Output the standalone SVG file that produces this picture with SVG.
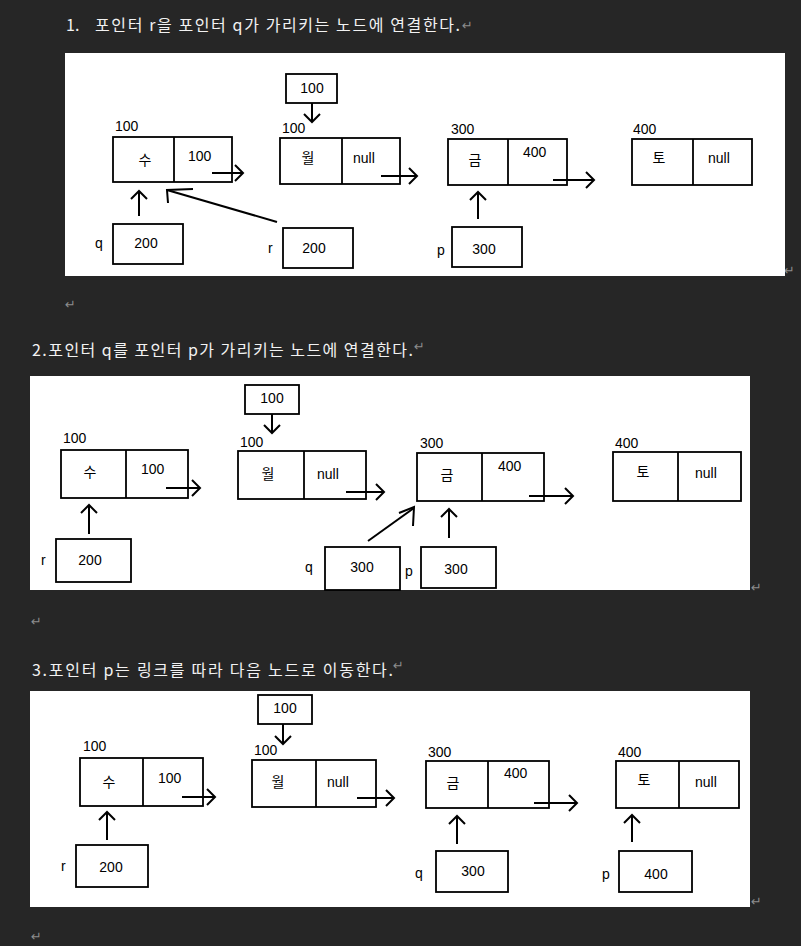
<svg xmlns="http://www.w3.org/2000/svg" width="801" height="946" viewBox="0 0 801 946">
<style>
.bg{fill:#262626}
.panel{fill:#ffffff}
.box{fill:none;stroke:#000;stroke-width:1.8}
.t{font-family:"Liberation Sans","Noto Sans CJK KR",sans-serif;font-size:14px;fill:#000}
.k{font-family:"Noto Sans CJK KR","Liberation Sans",sans-serif;font-size:14px;fill:#000}
.h{font-family:"Noto Sans CJK KR","Liberation Sans",sans-serif;font-size:16px;fill:#f2f2f2}
.pm{font-family:"DejaVu Sans",sans-serif;font-size:13px;fill:#8c8c8c}
.ln{fill:none;stroke:#000;stroke-width:2}
</style>
<defs>
<marker id="arr" markerUnits="userSpaceOnUse" viewBox="-12 -12 24 24" markerWidth="24" markerHeight="24" refX="0" refY="0" orient="auto">
<path d="M-8,-8 L0,0 L-8,8" fill="none" stroke="#000" stroke-width="2"/>
</marker>
</defs>
<rect class="bg" x="0" y="0" width="801" height="946"/>

<g id="headers">
<text class="h" x="66" y="31">1.</text>
<text class="h" x="95" y="31" textLength="365" lengthAdjust="spacing">포인터 r을 포인터 q가 가리키는 노드에 연결한다.</text>
<text class="h" x="32" y="356" textLength="381" lengthAdjust="spacing">2.포인터 q를 포인터 p가 가리키는 노드에 연결한다.</text>
<text class="h" x="32" y="676" textLength="361" lengthAdjust="spacing">3.포인터 p는 링크를 따라 다음 노드로 이동한다.</text>
<text class="pm" x="462" y="30">↵</text>
<text class="pm" x="784" y="275">↵</text>
<text class="pm" x="65" y="309">↵</text>
<text class="pm" x="414" y="351">↵</text>
<text class="pm" x="751" y="592">↵</text>
<text class="pm" x="31" y="626">↵</text>
<text class="pm" x="393" y="670">↵</text>
<text class="pm" x="751" y="906">↵</text>
<text class="pm" x="31" y="941">↵</text>
</g>

<!-- Panel 1 -->
<rect class="panel" x="65" y="53" width="720" height="223"/>
<g id="p1-su"><rect class="box" x="113" y="137" width="119" height="45"/><line class="box" x1="174" y1="137" x2="174" y2="182"/><text class="t" x="115" y="131">100</text><text class="k" x="145" y="165" text-anchor="middle">수</text><text class="t" x="188" y="161">100</text></g>
<g id="p1-wol"><rect class="box" x="280" y="138" width="120" height="46"/><line class="box" x1="342" y1="138" x2="342" y2="184"/><text class="t" x="282" y="133">100</text><text class="k" x="308" y="163" text-anchor="middle">월</text><text class="t" x="353" y="163">null</text></g>
<g id="p1-geum"><rect class="box" x="448" y="139" width="119" height="46"/><line class="box" x1="508" y1="139" x2="508" y2="185"/><text class="t" x="451" y="134">300</text><text class="k" x="475" y="165" text-anchor="middle">금</text><text class="t" x="523" y="157">400</text></g>
<g id="p1-to"><rect class="box" x="632" y="139" width="120" height="46"/><line class="box" x1="693" y1="139" x2="693" y2="185"/><text class="t" x="633" y="134">400</text><text class="k" x="659" y="163" text-anchor="middle">토</text><text class="t" x="708" y="163">null</text></g>
<g id="p1-box100"><rect class="box" x="286" y="74" width="51" height="29"/><text class="t" x="312" y="93" text-anchor="middle">100</text></g>
<g id="p1-q"><rect class="box" x="113" y="224" width="70" height="40"/><text class="t" x="95" y="248">q</text><text class="t" x="146" y="248" text-anchor="middle">200</text></g>
<g id="p1-r"><rect class="box" x="283" y="228" width="70" height="40"/><text class="t" x="268" y="253">r</text><text class="t" x="314" y="253" text-anchor="middle">200</text></g>
<g id="p1-p"><rect class="box" x="452" y="227" width="70" height="40"/><text class="t" x="437" y="255">p</text><text class="t" x="484" y="254" text-anchor="middle">300</text></g>

<!-- Panel 2 -->
<rect class="panel" x="30" y="376" width="720" height="214"/>
<g id="p2-su"><rect class="box" x="61" y="450" width="127" height="48"/><line class="box" x1="126" y1="450" x2="126" y2="498"/><text class="t" x="63" y="443">100</text><text class="k" x="90" y="477" text-anchor="middle">수</text><text class="t" x="141" y="474">100</text></g>
<g id="p2-wol"><rect class="box" x="238" y="451" width="128" height="48"/><line class="box" x1="304" y1="451" x2="304" y2="499"/><text class="t" x="240" y="447">100</text><text class="k" x="268" y="479" text-anchor="middle">월</text><text class="t" x="317" y="479">null</text></g>
<g id="p2-geum"><rect class="box" x="417" y="453" width="127" height="48"/><line class="box" x1="482" y1="453" x2="482" y2="501"/><text class="t" x="420" y="448">300</text><text class="k" x="447" y="480" text-anchor="middle">금</text><text class="t" x="498" y="471">400</text></g>
<g id="p2-to"><rect class="box" x="613" y="452" width="128" height="49"/><line class="box" x1="678" y1="452" x2="678" y2="501"/><text class="t" x="615" y="448">400</text><text class="k" x="643" y="477" text-anchor="middle">토</text><text class="t" x="695" y="478">null</text></g>
<g id="p2-box100"><rect class="box" x="245" y="385" width="54" height="29"/><text class="t" x="272" y="403" text-anchor="middle">100</text></g>
<g id="p2-r"><rect class="box" x="56" y="539" width="75" height="43"/><text class="t" x="41" y="565">r</text><text class="t" x="90" y="565" text-anchor="middle">200</text></g>
<g id="p2-q"><rect class="box" x="325" y="547" width="75" height="43"/><text class="t" x="305" y="572">q</text><text class="t" x="362" y="572" text-anchor="middle">300</text></g>
<g id="p2-p"><rect class="box" x="421" y="547" width="75" height="41"/><text class="t" x="405" y="576">p</text><text class="t" x="456" y="574" text-anchor="middle">300</text></g>

<!-- Panel 3 -->
<rect class="panel" x="30" y="691" width="720" height="216"/>
<g id="p3-su"><rect class="box" x="80" y="758" width="123" height="48"/><line class="box" x1="143" y1="758" x2="143" y2="806"/><text class="t" x="83" y="751">100</text><text class="k" x="109" y="787" text-anchor="middle">수</text><text class="t" x="158" y="783">100</text></g>
<g id="p3-wol"><rect class="box" x="252" y="760" width="124" height="47"/><line class="box" x1="316" y1="760" x2="316" y2="807"/><text class="t" x="254" y="755">100</text><text class="k" x="278" y="787" text-anchor="middle">월</text><text class="t" x="327" y="787">null</text></g>
<g id="p3-geum"><rect class="box" x="426" y="761" width="123" height="47"/><line class="box" x1="488" y1="761" x2="488" y2="808"/><text class="t" x="428" y="757">300</text><text class="k" x="453" y="788" text-anchor="middle">금</text><text class="t" x="504" y="778">400</text></g>
<g id="p3-to"><rect class="box" x="616" y="761" width="123" height="47"/><line class="box" x1="679" y1="761" x2="679" y2="808"/><text class="t" x="618" y="757">400</text><text class="k" x="644" y="785" text-anchor="middle">토</text><text class="t" x="695" y="787">null</text></g>
<g id="p3-box100"><rect class="box" x="258" y="695" width="54" height="29"/><text class="t" x="285" y="713" text-anchor="middle">100</text></g>
<g id="p3-r"><rect class="box" x="76" y="845" width="72" height="42"/><text class="t" x="61" y="871">r</text><text class="t" x="111" y="872" text-anchor="middle">200</text></g>
<g id="p3-q"><rect class="box" x="436" y="851" width="72" height="41"/><text class="t" x="415" y="878">q</text><text class="t" x="473" y="876" text-anchor="middle">300</text></g>
<g id="p3-p"><rect class="box" x="619" y="851" width="73" height="41"/><text class="t" x="602" y="879">p</text><text class="t" x="656" y="879" text-anchor="middle">400</text></g>

<g id="connectors">
<path class="ln" d="M212,173 L243,173" marker-end="url(#arr)"/>
<path class="ln" d="M381,176 L417,176" marker-end="url(#arr)"/>
<path class="ln" d="M553,180 L594,180" marker-end="url(#arr)"/>
<path class="ln" d="M312,103 L312,122" marker-end="url(#arr)"/>
<path class="ln" d="M139,216 L139,191" marker-end="url(#arr)"/>
<path class="ln" d="M478,219 L478,192" marker-end="url(#arr)"/>
<path class="ln" d="M277,222 L167,190"/>
<path class="ln" d="M193,189 L167,190 L168,203"/>

<path class="ln" d="M166,488 L200,488" marker-end="url(#arr)"/>
<path class="ln" d="M346,492 L384,492" marker-end="url(#arr)"/>
<path class="ln" d="M529,496 L573,496" marker-end="url(#arr)"/>
<path class="ln" d="M272,414 L272,433" marker-end="url(#arr)"/>
<path class="ln" d="M89,534 L89,505" marker-end="url(#arr)"/>
<path class="ln" d="M449,538 L449,509" marker-end="url(#arr)"/>
<path class="ln" d="M368,541 L414,508"/>
<path class="ln" d="M399,513 L414,507 L413,526"/>

<path class="ln" d="M182,797 L215,797" marker-end="url(#arr)"/>
<path class="ln" d="M357,798 L394,798" marker-end="url(#arr)"/>
<path class="ln" d="M534,803 L577,803" marker-end="url(#arr)"/>
<path class="ln" d="M283,724 L283,744" marker-end="url(#arr)"/>
<path class="ln" d="M107,840 L107,812" marker-end="url(#arr)"/>
<path class="ln" d="M457,844 L457,816" marker-end="url(#arr)"/>
<path class="ln" d="M632,842 L632,815" marker-end="url(#arr)"/>
</g>
</svg>
